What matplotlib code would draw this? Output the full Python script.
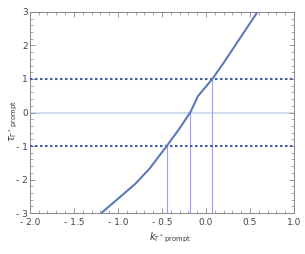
import matplotlib
matplotlib.use('Agg')
import matplotlib.pyplot as plt
from matplotlib.ticker import MultipleLocator, FuncFormatter

# curve
k_vals = [-1.19, -0.985, -0.80, -0.643, -0.446, -0.309, -0.179, -0.092, 0.072, 0.20, 0.585]
tau_vals = [-3.0, -2.54, -2.12, -1.68, -1.0, -0.507, 0.0, 0.487, 1.0, 1.48, 3.0]

# crossing points at tau = -1, 0, 1
cross_k = [-0.446, -0.179, 0.072]
cross_tau = [-1, 0, 1]

fig = plt.figure(figsize=(3.05, 2.54), dpi=100)
ax = fig.add_axes([0.098, 0.161, 0.866, 0.792])

ax.axhline(0, color='#c9d3ea', lw=1.2, zorder=1)
for k, t in zip(cross_k, cross_tau):
    ax.plot([k, k], [-3, t], color='#9d9dff', lw=0.8, zorder=2)
for t in (-1, 1):
    ax.axhline(t, color='#3f62a8', lw=1.5, ls=(0, (1.2, 1.2)), zorder=3)
ax.plot(k_vals, tau_vals, color='#5b7bb8', lw=1.5, zorder=4)

ax.set_xlim(-2, 1)
ax.set_ylim(-3, 3)
ax.xaxis.set_major_locator(MultipleLocator(0.5))
ax.xaxis.set_minor_locator(MultipleLocator(0.1))
ax.yaxis.set_major_locator(MultipleLocator(1))
ax.yaxis.set_minor_locator(MultipleLocator(0.2))

def fmt_x(v, pos):
    s = '%.1f' % abs(v)
    return ('- ' + s) if v < -1e-9 else s

def fmt_y(v, pos):
    s = '%d' % abs(round(v))
    return ('- ' + s) if v < -1e-9 else s

ax.xaxis.set_major_formatter(FuncFormatter(fmt_x))
ax.yaxis.set_major_formatter(FuncFormatter(fmt_y))
ax.tick_params(which='both', direction='in', top=True, right=True,
               color='#888888', labelsize=6.5, labelcolor='#444444')
ax.tick_params(axis='x', pad=3.5)
ax.tick_params(axis='y', pad=1.5)
ax.tick_params(which='major', length=3.5, width=0.6)
ax.tick_params(which='minor', length=2, width=0.5)
for s in ax.spines.values():
    s.set_color('#888888')
    s.set_linewidth(0.7)

fig.text(0.49, 0.055, r'$k_{\Gamma^*\,\mathrm{prompt}}$', fontsize=7, color='#333333')
fig.text(0.025, 0.46, r'$\tau_{\Gamma^*\,\mathrm{prompt}}$', fontsize=7, color='#333333',
         rotation=90)

fig.savefig('out.png', dpi=100)
